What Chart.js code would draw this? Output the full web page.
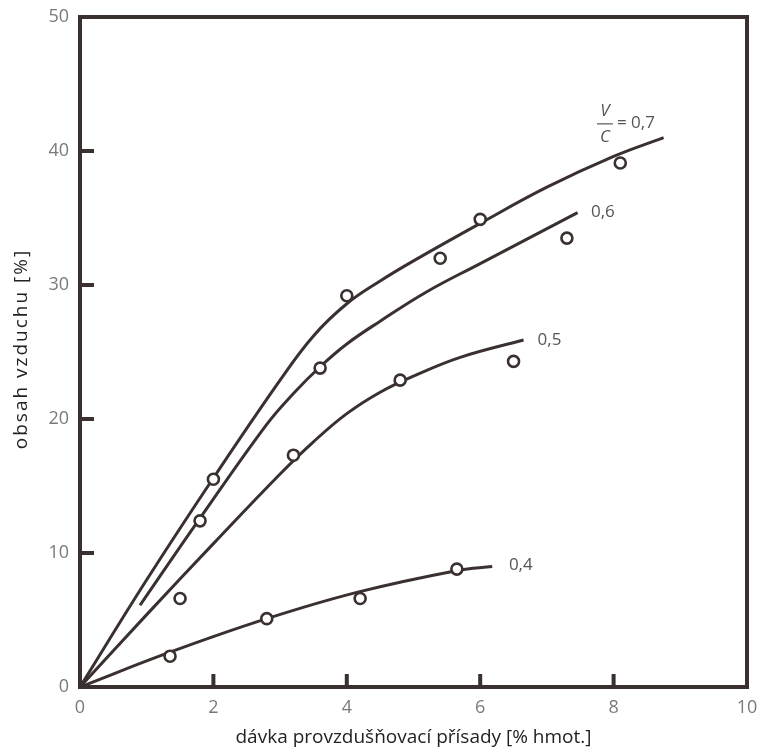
<!DOCTYPE html>
<html>
<head>
<meta charset="utf-8">
<script src="https://cdn.jsdelivr.net/npm/chart.js@4.4.1/dist/chart.umd.min.js"></script>
<style>
  html, body { margin: 0; padding: 0; background: #fff; }
  #graf { display: block; }
</style>
</head>
<body>
<canvas id="graf" width="760" height="751"></canvas>
<script>
// Křivky - [x, y]
const krivka07 = [[0,0],[1,8.0],[2,15.6],[3,22.9],[3.5,26.2],[4,28.6],[4.5,30.3],[5,31.8],[6,34.6],[7,37.3],[8,39.6],[8.75,41.0]];
const krivka06 = [[0.9,6.1],[1.8,12.6],[2.8,19.6],[3.2,21.9],[3.6,23.9],[4,25.6],[4.5,27.3],[5.2,29.5],[6,31.6],[7.46,35.4]];
const krivka05 = [[0,0],[1,5.4],[2,10.7],[3,15.9],[3.5,18.3],[4,20.4],[4.5,22.0],[5,23.2],[5.7,24.6],[6.65,25.9]];
const krivka04 = [[0,0],[1.35,2.6],[2.8,5.1],[4.18,7.1],[5.66,8.7],[6.18,9.0]];

// Naměřené body
const body07 = [[2.0,15.5],[4.0,29.2],[5.4,32.0],[6.0,34.9],[8.1,39.1]];
const body06 = [[1.8,12.4],[3.6,23.8],[7.3,33.5]];
const body05 = [[1.5,6.6],[3.2,17.3],[4.8,22.9],[6.5,24.3]];
const body04 = [[1.35,2.3],[2.8,5.1],[4.2,6.6],[5.65,8.8]];

// Popisky křivek
const popisky = ['= 0,7', '0,6', '0,5', '0,4'];
const popiskyX = [8.05, 7.66, 6.86, 6.43];
const popiskyY = [42.1, 35.4, 25.9, 9.1];

// Osy
const osaX = [0, 2, 4, 6, 8, 10];
const osaY = [0, 10, 20, 30, 40, 50];
const titulekY = 'obsah vzduchu [%]';

const barva = '#3b3030';
const sedaText = '#7a7a7a';

function naBody(pole) {
    return pole.map(p => ({ x: p[0], y: p[1] }));
}

function krivka(pole) {
    return {
        data: naBody(pole),
        showLine: true,
        borderColor: barva,
        borderWidth: 3,
        pointRadius: 0,
        tension: 0.4,
        order: 2
    };
}

function body(pole) {
    return {
        data: naBody(pole),
        showLine: false,
        pointRadius: 5.5,
        pointBorderWidth: 2.6,
        pointBorderColor: barva,
        pointBackgroundColor: '#fff',
        order: 1
    };
}

// Rámeček, vnitřní značky a popisky
const ramecek = {
    id: 'ramecek',
    afterDatasetsDraw(chart) {
        const ctx = chart.ctx;
        const a = chart.chartArea;
        const sx = chart.scales.x;
        const sy = chart.scales.y;
        ctx.save();
        ctx.strokeStyle = barva;
        ctx.lineWidth = 4;
        ctx.strokeRect(a.left, a.top, a.right - a.left, a.bottom - a.top);

        // značky dovnitř
        ctx.beginPath();
        osaX.slice(1, -1).forEach(v => {
            const px = sx.getPixelForValue(v);
            ctx.moveTo(px, a.bottom);
            ctx.lineTo(px, a.bottom - 13);
        });
        osaY.slice(1, -1).forEach(v => {
            const py = sy.getPixelForValue(v);
            ctx.moveTo(a.left, py);
            ctx.lineTo(a.left + 14, py);
        });
        ctx.stroke();

        // popisky křivek
        ctx.fillStyle = '#555';
        ctx.font = '17px "Open Sans"';
        ctx.textBaseline = 'middle';
        ctx.textAlign = 'left';
        popisky.forEach((t, i) => {
            ctx.fillText(t, sx.getPixelForValue(popiskyX[i]), sy.getPixelForValue(popiskyY[i]));
        });

        // zlomek V/C
        const fx = sx.getPixelForValue(popiskyX[0]) - 4;
        const fy = sy.getPixelForValue(popiskyY[0]) + 1;
        ctx.font = 'italic 17px "Open Sans"';
        ctx.textAlign = 'center';
        ctx.fillText('V', fx - 8, fy - 13);
        ctx.fillText('C', fx - 8, fy + 13);
        ctx.lineWidth = 1.2;
        ctx.strokeStyle = '#555';
        ctx.beginPath();
        ctx.moveTo(fx - 16, fy);
        ctx.lineTo(fx, fy);
        ctx.stroke();

        // titulek osy y (s prostrkáním)
        ctx.translate(22, (a.top + a.bottom) / 2 - 3);
        ctx.rotate(-Math.PI / 2);
        ctx.fillStyle = '#222';
        ctx.font = '19px "Open Sans"';
        ctx.letterSpacing = '2px';
        ctx.textAlign = 'center';
        ctx.fillText(titulekY, 0, 0);
        ctx.restore();
    }
};

new Chart(document.getElementById('graf'), {
    type: 'scatter',
    data: {
        datasets: [
            krivka(krivka07), krivka(krivka06), krivka(krivka05), krivka(krivka04),
            body(body07), body(body06), body(body05), body(body04)
        ]
    },
    options: {
        responsive: false,
        animation: false,
        layout: { padding: { left: 0, top: 17, right: 13, bottom: 0 } },
        plugins: {
            legend: { display: false },
            tooltip: { enabled: false }
        },
        scales: {
            x: {
                type: 'linear',
                min: 0,
                max: 10,
                afterFit: s => { s.height = 64; s.paddingLeft = 0; s.paddingRight = 0; },
                afterBuildTicks: s => { s.ticks = osaX.map(v => ({ value: v })); },
                grid: { display: false, drawTicks: false },
                border: { display: false },
                ticks: {
                    color: sedaText,
                    padding: 10,
                    font: { family: '"Open Sans"', size: 18 }
                },
                title: {
                    display: true,
                    text: 'dávka provzdušňovací přísady [% hmot.]',
                    color: '#222',
                    padding: { top: 0, bottom: 2 },
                    font: { family: '"Open Sans"', size: 19 }
                }
            },
            y: {
                type: 'linear',
                min: 0,
                max: 50,
                afterFit: s => { s.width = 80; s.paddingTop = 0; s.paddingBottom = 0; },
                afterBuildTicks: s => { s.ticks = osaY.map(v => ({ value: v })); },
                grid: { display: false, drawTicks: false },
                border: { display: false },
                ticks: {
                    color: sedaText,
                    padding: 11,
                    font: { family: '"Open Sans"', size: 18 }
                },
                title: { display: false }
            }
        }
    },
    plugins: [ramecek]
});
</script>
</body>
</html>
